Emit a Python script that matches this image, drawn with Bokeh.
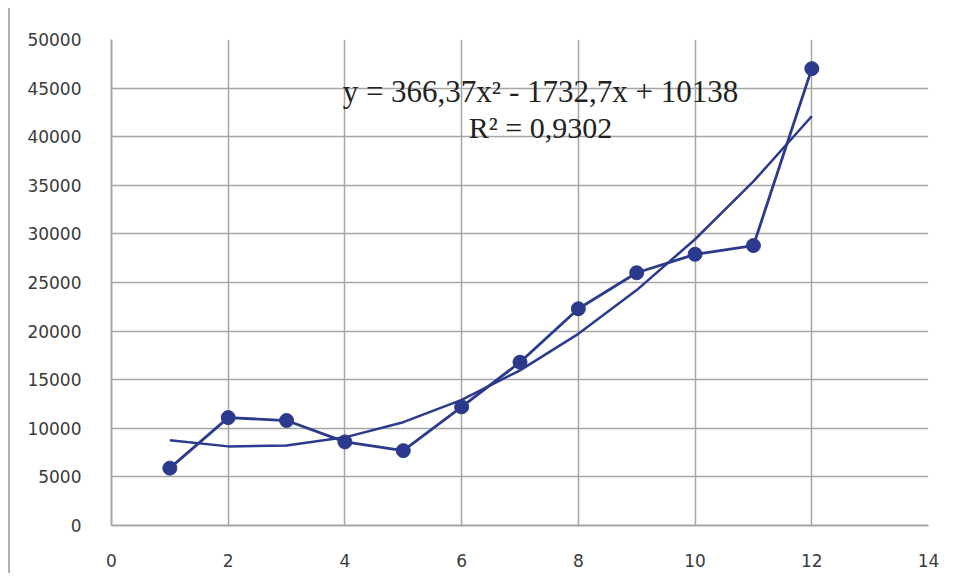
from bokeh.plotting import figure
from bokeh.embed import file_html
from bokeh.resources import INLINE
from bokeh.models import Range1d, FixedTicker, Label

x_vals = [1, 2, 3, 4, 5, 6, 7, 8, 9, 10, 11, 12]
y_vals = [5900, 11100, 10800, 8600, 7700, 12200, 16800, 22300, 26000, 27900, 28800, 47000]
trend_vals = [8770, 8140, 8240, 9070, 10630, 12930, 15960, 19720, 24220, 29450, 35410, 42100]
x_ticks = [0, 2, 4, 6, 8, 10, 12, 14]
y_ticks = [0, 5000, 10000, 15000, 20000, 25000, 30000, 35000, 40000, 45000, 50000]
eq_line1 = "y = 366,37x² - 1732,7x + 10138"
eq_line2 = "R² = 0,9302"

blue = "#2B3A8C"
gray = "#a6a6a6"

p = figure(width=940, height=565, output_backend="svg", toolbar_location=None,
           x_range=Range1d(0, 14), y_range=Range1d(0, 50000),
           min_border_left=101, min_border_right=22, min_border_top=31, min_border_bottom=48)
p.outline_line_color = None
p.background_fill_color = "white"
p.border_fill_color = "white"
p.styles = {"border-left": "2px solid #b0b0b0", "margin-left": "8px", "margin-top": "8px"}

for ax in (p.xaxis, p.yaxis):
    ax.axis_line_color = gray
    ax.axis_line_width = 2
    ax.major_tick_line_color = None
    ax.minor_tick_line_color = None
    ax.major_label_text_font = "DejaVu Sans"
    ax.major_label_text_font_size = "17px"
    ax.major_label_text_color = "#3a3a3a"

p.xaxis.ticker = FixedTicker(ticks=x_ticks)
p.yaxis.ticker = FixedTicker(ticks=y_ticks)
p.xaxis.major_label_standoff = 22
p.yaxis.major_label_standoff = 24

p.xgrid.ticker = FixedTicker(ticks=x_ticks)
p.ygrid.ticker = FixedTicker(ticks=y_ticks)
p.xgrid.grid_line_color = gray
p.ygrid.grid_line_color = gray
p.xgrid.grid_line_width = 1.5
p.ygrid.grid_line_width = 1.5

p.line(x_vals, trend_vals, line_color=blue, line_width=2.5)
p.line(x_vals, y_vals, line_color=blue, line_width=2.8)
p.scatter(x_vals, y_vals, size=14, fill_color=blue, line_color=blue)

p.add_layout(Label(x=7.35, y=44650, text=eq_line1, text_align="center", text_baseline="middle",
                   text_font="Liberation Serif", text_font_size="31px", text_color="#222222"))
p.add_layout(Label(x=7.35, y=40950, text=eq_line2, text_align="center", text_baseline="middle",
                   text_font="Liberation Serif", text_font_size="30px", text_color="#222222"))

open("out.html", "w").write(file_html(p, INLINE))
